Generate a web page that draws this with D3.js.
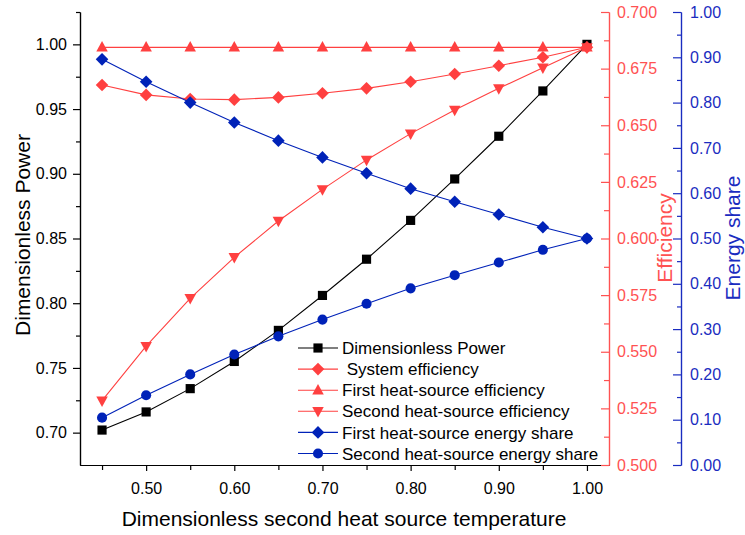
<!DOCTYPE html>
<html>
<head>
<meta charset="utf-8">
<script src="https://cdn.jsdelivr.net/npm/d3@7/dist/d3.min.js"></script>
<style>
  html, body { margin: 0; padding: 0; background: #fff; }
  svg { display: block; font-family: "Liberation Sans", Arial, Helvetica, sans-serif; }
</style>
</head>
<body>
<svg id="chart" width="745" height="535"></svg>
<script>
// Dimensionless second heat source temperature (x values)
const temperature = [0.45, 0.50, 0.55, 0.60, 0.65, 0.70, 0.75, 0.80, 0.85, 0.90, 0.95, 1.00];

// Left axis: dimensionless power
const dimensionlessPower = [0.702, 0.716, 0.734, 0.755, 0.779, 0.806, 0.834, 0.864, 0.896, 0.929, 0.964, 1.000];

// Efficiency axis
const systemEfficiency = [0.6678, 0.6634, 0.6616, 0.6613, 0.6623, 0.6641, 0.6663, 0.6692, 0.6726, 0.6763, 0.6800, 0.6844];
const firstSourceEfficiency = [0.6844, 0.6844, 0.6844, 0.6844, 0.6844, 0.6844, 0.6844, 0.6844, 0.6844, 0.6844, 0.6844, 0.6844];
const secondSourceEfficiency = [0.5284, 0.5525, 0.5736, 0.5917, 0.6077, 0.6217, 0.6347, 0.6463, 0.6567, 0.6663, 0.6754, 0.6844];

// Energy share axis
const firstSourceShare = [0.8955, 0.846, 0.800, 0.756, 0.716, 0.679, 0.644, 0.610, 0.581, 0.553, 0.525, 0.500];
const secondSourceShare = [0.1045, 0.154, 0.200, 0.244, 0.284, 0.321, 0.356, 0.390, 0.419, 0.447, 0.475, 0.500];

// Tick values
const xMajorTicks = [0.50, 0.60, 0.70, 0.80, 0.90, 1.00];
const xMinorTicks = [0.45, 0.55, 0.65, 0.75, 0.85, 0.95];
const powerMajorTicks = [0.70, 0.75, 0.80, 0.85, 0.90, 0.95, 1.00];
const powerMinorTicks = [0.725, 0.775, 0.825, 0.875, 0.925, 0.975, 1.025];
const effMajorTicks = [0.500, 0.525, 0.550, 0.575, 0.600, 0.625, 0.650, 0.675, 0.700];
const effMinorTicks = [0.5125, 0.5375, 0.5625, 0.5875, 0.6125, 0.6375, 0.6625, 0.6875];
const shareMajorTicks = [0.0, 0.1, 0.2, 0.3, 0.4, 0.5, 0.6, 0.7, 0.8, 0.9, 1.0];
const shareMinorTicks = [0.05, 0.15, 0.25, 0.35, 0.45, 0.55, 0.65, 0.75, 0.85, 0.95];

const RED = "#ff4040";
const RED_AXIS = "#ff5252";
const BLUE = "#0022b8";
const BLUE_AXIS = "#1a2cc0";
const BLACK = "#000000";

const plotLeft = 80, plotRight = 609, plotTop = 12, plotBottom = 465;
const effAxisX = 609, shareAxisX = 681;

const svg = d3.select("#chart");

const x = d3.scaleLinear().domain([0.425, 1.025]).range([plotLeft, plotRight]);
const yPower = d3.scaleLinear().domain([0.675, 1.025]).range([plotBottom, plotTop]);
const yEff = d3.scaleLinear().domain([0.5, 0.7]).range([plotBottom, plotTop]);
const yShare = d3.scaleLinear().domain([0, 1]).range([plotBottom, plotTop]);

// Marker shapes
const squareSym = d3.symbol().type(d3.symbolSquare).size(84);
const circleSym = d3.symbol().type(d3.symbolCircle).size(80);
function diamondPath(r) { return `M0,${-r}L${r},0L0,${r}L${-r},0Z`; }
function triUpPath(w, h) { return `M0,${-h * 0.6}L${w / 2},${h * 0.4}L${-w / 2},${h * 0.4}Z`; }
function triDownPath(w, h) { return `M0,${h * 0.6}L${w / 2},${-h * 0.4}L${-w / 2},${-h * 0.4}Z`; }

const series = [
  { name: "Dimensionless Power", values: dimensionlessPower, y: yPower, color: BLACK, shape: squareSym() },
  { name: " System efficiency", values: systemEfficiency, y: yEff, color: RED, shape: diamondPath(6.3) },
  { name: "First heat-source efficiency", values: firstSourceEfficiency, y: yEff, color: RED, shape: triUpPath(11.5, 10.5) },
  { name: "Second heat-source efficiency", values: secondSourceEfficiency, y: yEff, color: RED, shape: triDownPath(11.5, 10.5) },
  { name: "First heat-source energy share", values: firstSourceShare, y: yShare, color: BLUE, shape: diamondPath(6.3) },
  { name: "Second heat-source energy share", values: secondSourceShare, y: yShare, color: BLUE, shape: circleSym() }
];

// Axes
function styleAxis(g, color, fontSize) {
  g.selectAll("path.domain").attr("stroke", color).attr("stroke-width", 1.2);
  g.selectAll(".tick line").attr("stroke", color).attr("stroke-width", 1.2);
  g.selectAll(".tick text").attr("fill", color).style("font-size", fontSize + "px")
    .style("font-family", '"Liberation Sans", Arial, sans-serif');
}

// Bottom axis
svg.append("g").attr("transform", `translate(0,${plotBottom})`)
  .call(d3.axisBottom(x).tickValues(xMinorTicks).tickSize(5).tickFormat("").tickSizeOuter(0))
  .call(g => styleAxis(g, BLACK, 16));
svg.append("g").attr("transform", `translate(0,${plotBottom})`)
  .call(d3.axisBottom(x).tickValues(xMajorTicks).tickSize(6).tickPadding(12)
    .tickFormat(d3.format(".2f")).tickSizeOuter(0))
  .call(g => styleAxis(g, BLACK, 16));

// Left axis
svg.append("g").attr("transform", `translate(${plotLeft},0)`)
  .call(d3.axisLeft(yPower).tickValues(powerMinorTicks).tickSize(4).tickFormat("").tickSizeOuter(0))
  .call(g => styleAxis(g, BLACK, 16));
svg.append("g").attr("transform", `translate(${plotLeft},0)`)
  .call(d3.axisLeft(yPower).tickValues(powerMajorTicks).tickSize(7).tickPadding(6)
    .tickFormat(d3.format(".2f")).tickSizeOuter(0))
  .call(g => styleAxis(g, BLACK, 16));

// Efficiency axis
svg.append("g").attr("transform", `translate(${effAxisX},0)`)
  .call(d3.axisRight(yEff).tickValues(effMinorTicks).tickSize(-5).tickFormat("").tickSizeOuter(0))
  .call(g => styleAxis(g, RED_AXIS, 16));
svg.append("g").attr("transform", `translate(${effAxisX},0)`)
  .call(d3.axisRight(yEff).tickValues(effMajorTicks).tickSize(-8).tickPadding(8)
    .tickFormat(d3.format(".3f")).tickSizeOuter(0))
  .call(g => styleAxis(g, RED_AXIS, 16));

// Energy share axis
svg.append("g").attr("transform", `translate(${shareAxisX},0)`)
  .call(d3.axisRight(yShare).tickValues(shareMinorTicks).tickSize(-4).tickFormat("").tickSizeOuter(0))
  .call(g => styleAxis(g, BLUE_AXIS, 16));
svg.append("g").attr("transform", `translate(${shareAxisX},0)`)
  .call(d3.axisRight(yShare).tickValues(shareMajorTicks).tickSize(-8).tickPadding(9)
    .tickFormat(d3.format(".2f")).tickSizeOuter(0))
  .call(g => styleAxis(g, BLUE_AXIS, 16));

// Axis titles
svg.append("text").attr("x", 344).attr("y", 526).attr("text-anchor", "middle")
  .style("font-size", "21px").attr("fill", BLACK).text("Dimensionless second heat source temperature");
svg.append("text").attr("transform", "translate(30,235) rotate(-90)").attr("text-anchor", "middle")
  .style("font-size", "21px").attr("fill", BLACK).text("Dimensionless Power");
svg.append("text").attr("transform", "translate(672,238) rotate(-90)").attr("text-anchor", "middle")
  .style("font-size", "21px").attr("fill", RED_AXIS).text("Efficiency");
svg.append("text").attr("transform", "translate(740,238) rotate(-90)").attr("text-anchor", "middle")
  .style("font-size", "21px").attr("fill", BLUE_AXIS).text("Energy share");

// Series lines and markers
const plot = svg.append("g");
series.forEach(s => {
  const pts = temperature.map((t, i) => [t, s.values[i]]);
  const line = d3.line().x(d => x(d[0])).y(d => s.y(d[1]));
  plot.append("path").attr("d", line(pts)).attr("fill", "none")
    .attr("stroke", s.color).attr("stroke-width", 1.1);
  plot.append("g").selectAll("path").data(pts).join("path")
    .attr("transform", d => `translate(${x(d[0])},${s.y(d[1])})`)
    .attr("d", s.shape).attr("fill", s.color);
});

// Legend
const legend = svg.append("g");
const legendY0 = 348, legendStep = 21.1;
series.forEach((s, i) => {
  const yy = legendY0 + i * legendStep;
  legend.append("line").attr("x1", 298).attr("x2", 338).attr("y1", yy).attr("y2", yy)
    .attr("stroke", s.color).attr("stroke-width", 1.1);
  legend.append("path").attr("transform", `translate(318,${yy})`).attr("d", s.shape).attr("fill", s.color);
  legend.append("text").attr("x", 342).attr("y", yy).attr("dy", "0.36em")
    .style("font-size", "17px").style("white-space", "pre").attr("fill", BLACK).text(s.name);
});
</script>
</body>
</html>
